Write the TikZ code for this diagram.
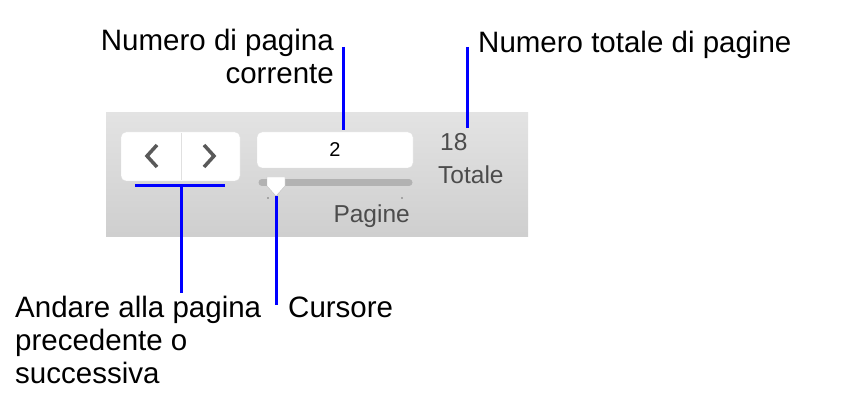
\documentclass[tikz,border=0pt]{standalone}
\usepackage{fontspec}
\setmainfont{Liberation Sans}
\begin{document}
\begin{tikzpicture}[x=1pt,y=-1pt,
  lbl/.style={font=\fontsize{29.5}{33}\selectfont,inner sep=0pt},
  ui/.style={font=\fontsize{24.5}{28}\selectfont,text=black!70,inner sep=0pt},
  call/.style={draw=blue,line width=3pt},
  box/.style={fill=white,rounded corners=5pt,draw=black!12}]
\useasboundingbox (0,0) rectangle (860,406);
\fill[top color=black!11,bottom color=black!19] (106,113) rectangle (528,237);
\draw[box] (121,132) rectangle (240,181);
\draw[black!12] (181,133) -- (181,180);
\draw[black!65,line width=3.5pt] (157,145) -- (147,156) -- (157,167);
\draw[black!65,line width=3.5pt] (204,145) -- (214,156) -- (204,167);
\node[box,minimum width=156pt,minimum height=36pt,inner sep=0pt] (field) at (335,150) {\fontsize{20}{22}\selectfont 2};
\draw[black!30,line width=7pt,line cap=round] (262,182.5) -- (409,182.5);
\fill[black!55] (268,198) circle (0.8pt) (402,198) circle (0.8pt);
\draw[fill=white,draw=black!25] (267,177) -- (285,177) -- (285,186) -- (276,196) -- (267,186) -- cycle;
\node[ui,anchor=east] (pag) at (410,216) {Pagine};
\node[ui,anchor=west] (n18) at (440,142) {18};
\node[ui,anchor=west] (tot) at (438,175) {Totale};
\coordinate (bl) at (135,186); \coordinate (br) at (225,186);
\draw[call] (bl) -- (br);
\coordinate (bm) at (181,186); \coordinate (bmd) at (181,293);
\draw[call] (bm) -- (bmd);
\coordinate (cu) at (276,196); \coordinate (cd) at (276,305);
\draw[call] (cu) -- (cd);
\coordinate (pu) at (343,47); \coordinate (pd) at (343,130);
\draw[call] (pu) -- (pd);
\coordinate (tu) at (467,47); \coordinate (td) at (467,128);
\draw[call] (tu) -- (td);
\node[lbl,anchor=north east,align=right] (l1) at (334,29) {Numero di pagina\\corrente};
\node[lbl,anchor=west] (l2) at (478,45) {Numero totale di pagine};
\node[lbl,anchor=west] (l3) at (288,307) {Cursore};
\node[lbl,anchor=north west,align=left] (l4) at (15,296) {Andare alla pagina\\precedente o\\successiva};
\end{tikzpicture}
\end{document}
